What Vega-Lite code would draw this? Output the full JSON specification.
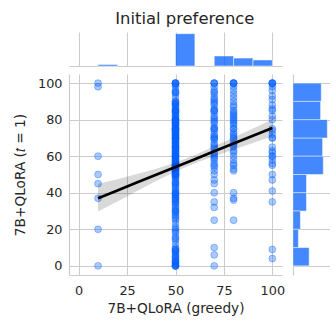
{
  "$schema": "https://vega.github.io/schema/vega-lite/v6.json",
  "padding": {"left": 13, "top": 10, "right": 0, "bottom": 0},
  "title": {"text": "Initial preference", "font": "DejaVu Sans", "fontSize": 16.4, "fontWeight": "normal", "color": "#262626", "anchor": "middle", "offset": 5, "dx": 13},
  "datasets": {
    "pts": [
      {"x":10,"y":100},{"x":10,"y":98},{"x":10,"y":60},{"x":10,"y":50},{"x":10,"y":45},{"x":10,"y":37},{"x":10,"y":20},{"x":10,"y":0},
      {"x":50,"y":0},{"x":50,"y":0},{"x":50,"y":0},{"x":50,"y":0},{"x":50,"y":1},{"x":50,"y":1},{"x":50,"y":2},{"x":50,"y":2},{"x":50,"y":3},{"x":50,"y":3},{"x":50,"y":4},{"x":50,"y":5},{"x":50,"y":5},{"x":50,"y":6},{"x":50,"y":7},{"x":50,"y":8},{"x":50,"y":8},{"x":50,"y":9},{"x":50,"y":9},
      {"x":50,"y":10},{"x":50,"y":12},{"x":50,"y":14},{"x":50,"y":15},{"x":50,"y":16},{"x":50,"y":18},{"x":50,"y":19},
      {"x":50,"y":20},{"x":50,"y":21},{"x":50,"y":23},{"x":50,"y":25},{"x":50,"y":26},{"x":50,"y":27},{"x":50,"y":28},{"x":50,"y":29},
      {"x":50,"y":30},{"x":50,"y":31},{"x":50,"y":32},{"x":50,"y":33},{"x":50,"y":34},{"x":50,"y":35},{"x":50,"y":35},{"x":50,"y":36},{"x":50,"y":37},{"x":50,"y":37},{"x":50,"y":38},{"x":50,"y":39},{"x":50,"y":39},{"x":50,"y":30},
      {"x":50,"y":40},{"x":50,"y":40},{"x":50,"y":41},{"x":50,"y":42},{"x":50,"y":43},{"x":50,"y":44},{"x":50,"y":45},{"x":50,"y":45},{"x":50,"y":46},{"x":50,"y":47},{"x":50,"y":48},{"x":50,"y":49},{"x":50,"y":49},
      {"x":50,"y":50},{"x":50,"y":50},{"x":50,"y":50},{"x":50,"y":51},{"x":50,"y":51},{"x":50,"y":52},{"x":50,"y":52},{"x":50,"y":53},{"x":50,"y":53},{"x":50,"y":54},{"x":50,"y":54},{"x":50,"y":55},{"x":50,"y":55},{"x":50,"y":55},{"x":50,"y":56},{"x":50,"y":56},{"x":50,"y":57},{"x":50,"y":57},{"x":50,"y":58},{"x":50,"y":58},{"x":50,"y":59},{"x":50,"y":59},{"x":50,"y":50},{"x":50,"y":52},{"x":50,"y":54},{"x":50,"y":56},{"x":50,"y":58},{"x":50,"y":55},
      {"x":50,"y":60},{"x":50,"y":60},{"x":50,"y":60},{"x":50,"y":61},{"x":50,"y":62},{"x":50,"y":62},{"x":50,"y":63},{"x":50,"y":64},{"x":50,"y":64},{"x":50,"y":65},{"x":50,"y":65},{"x":50,"y":66},{"x":50,"y":66},{"x":50,"y":67},{"x":50,"y":67},{"x":50,"y":68},{"x":50,"y":68},{"x":50,"y":69},{"x":50,"y":69},{"x":50,"y":60},{"x":50,"y":65},{"x":50,"y":63},{"x":50,"y":61},
      {"x":50,"y":70},{"x":50,"y":70},{"x":50,"y":70},{"x":50,"y":71},{"x":50,"y":71},{"x":50,"y":72},{"x":50,"y":72},{"x":50,"y":73},{"x":50,"y":73},{"x":50,"y":74},{"x":50,"y":74},{"x":50,"y":75},{"x":50,"y":75},{"x":50,"y":75},{"x":50,"y":76},{"x":50,"y":76},{"x":50,"y":77},{"x":50,"y":77},{"x":50,"y":78},{"x":50,"y":78},{"x":50,"y":79},{"x":50,"y":79},{"x":50,"y":70},{"x":50,"y":75},{"x":50,"y":72},{"x":50,"y":78},{"x":50,"y":74},
      {"x":50,"y":80},{"x":50,"y":80},{"x":50,"y":80},{"x":50,"y":81},{"x":50,"y":82},{"x":50,"y":82},{"x":50,"y":83},{"x":50,"y":84},{"x":50,"y":85},{"x":50,"y":85},{"x":50,"y":85},{"x":50,"y":86},{"x":50,"y":87},{"x":50,"y":88},{"x":50,"y":88},{"x":50,"y":89},{"x":50,"y":89},{"x":50,"y":80},{"x":50,"y":84},
      {"x":50,"y":90},{"x":50,"y":90},{"x":50,"y":92},{"x":50,"y":94},{"x":50,"y":95},{"x":50,"y":95},{"x":50,"y":96},{"x":50,"y":98},{"x":50,"y":99},{"x":50,"y":100},{"x":50,"y":100},{"x":50,"y":100},{"x":50,"y":100},
      {"x":70,"y":100},{"x":70,"y":100},{"x":70,"y":100},{"x":70,"y":98},{"x":70,"y":96},{"x":70,"y":95},{"x":70,"y":94},{"x":70,"y":92},{"x":70,"y":91},{"x":70,"y":90},
      {"x":70,"y":89},{"x":70,"y":88},{"x":70,"y":86},{"x":70,"y":85},{"x":70,"y":85},{"x":70,"y":84},{"x":70,"y":82},{"x":70,"y":81},{"x":70,"y":80},
      {"x":70,"y":79},{"x":70,"y":78},{"x":70,"y":76},{"x":70,"y":75},{"x":70,"y":75},{"x":70,"y":74},{"x":70,"y":72},{"x":70,"y":71},{"x":70,"y":70},{"x":70,"y":70},
      {"x":70,"y":69},{"x":70,"y":67},{"x":70,"y":66},{"x":70,"y":65},{"x":70,"y":64},{"x":70,"y":62},{"x":70,"y":61},{"x":70,"y":60},
      {"x":70,"y":59},{"x":70,"y":58},{"x":70,"y":56},{"x":70,"y":55},{"x":70,"y":54},{"x":70,"y":52},{"x":70,"y":50},
      {"x":70,"y":47},{"x":70,"y":45},{"x":70,"y":40},{"x":70,"y":35},{"x":70,"y":32},{"x":70,"y":25},{"x":70,"y":10},{"x":70,"y":6},{"x":70,"y":0},
      {"x":80,"y":100},{"x":80,"y":100},{"x":80,"y":100},{"x":80,"y":100},{"x":80,"y":98},{"x":80,"y":96},{"x":80,"y":94},{"x":80,"y":92},{"x":80,"y":90},
      {"x":80,"y":88},{"x":80,"y":87},{"x":80,"y":85},{"x":80,"y":84},{"x":80,"y":83},{"x":80,"y":82},{"x":80,"y":81},{"x":80,"y":80},
      {"x":80,"y":79},{"x":80,"y":78},{"x":80,"y":77},{"x":80,"y":75},{"x":80,"y":75},{"x":80,"y":73},{"x":80,"y":72},{"x":80,"y":71},{"x":80,"y":70},
      {"x":80,"y":69},{"x":80,"y":67},{"x":80,"y":66},{"x":80,"y":65},{"x":80,"y":63},{"x":80,"y":62},{"x":80,"y":60},
      {"x":80,"y":58},{"x":80,"y":56},{"x":80,"y":55},{"x":80,"y":53},{"x":80,"y":52},
      {"x":80,"y":40},{"x":80,"y":37},{"x":80,"y":36},{"x":80,"y":25},
      {"x":100,"y":100},{"x":100,"y":100},{"x":100,"y":100},{"x":100,"y":100},{"x":100,"y":98},{"x":100,"y":96},{"x":100,"y":93},{"x":100,"y":91},
      {"x":100,"y":88},{"x":100,"y":86},{"x":100,"y":85},{"x":100,"y":82},{"x":100,"y":80},
      {"x":100,"y":75},{"x":100,"y":74},{"x":100,"y":72},{"x":100,"y":70},{"x":100,"y":70},
      {"x":100,"y":65},{"x":100,"y":63},{"x":100,"y":62},{"x":100,"y":60},{"x":100,"y":60},
      {"x":100,"y":58},{"x":100,"y":56},{"x":100,"y":55},{"x":100,"y":50},
      {"x":100,"y":47},{"x":100,"y":41},{"x":100,"y":35},{"x":100,"y":9},{"x":100,"y":4}
    ],
    "fit": [
      {"x":10,"fit":37.0,"lo":29.8,"hi":45.0},
      {"x":20,"fit":41.3,"lo":35.2,"hi":47.4},
      {"x":30,"fit":45.6,"lo":40.9,"hi":50.3},
      {"x":40,"fit":49.8,"lo":46.4,"hi":53.2},
      {"x":50,"fit":54.1,"lo":51.6,"hi":56.6},
      {"x":60,"fit":58.4,"lo":56.1,"hi":60.7},
      {"x":70,"fit":62.7,"lo":60.0,"hi":65.4},
      {"x":80,"fit":66.9,"lo":63.6,"hi":70.2},
      {"x":90,"fit":71.2,"lo":67.2,"hi":75.2},
      {"x":100,"fit":75.5,"lo":70.9,"hi":80.1}
    ]
  },
  "concat": [
    {
      "width": 213, "height": 34,
      "data": {"name": "pts"},
      "transform": [
        {"bin": {"extent": [10, 100], "step": 10}, "field": "x", "as": ["x0", "x1"]},
        {"aggregate": [{"op": "count", "as": "n"}], "groupby": ["x0", "x1"]}
      ],
      "mark": {"type": "bar", "color": "#0560ff", "fillOpacity": 0.75, "stroke": "#ffffff", "strokeWidth": 0.8, "strokeOpacity": 0.6},
      "encoding": {
        "x": {"field": "x0", "type": "quantitative", "scale": {"domain": [-5, 105], "nice": false, "zero": false},
              "axis": {"values": [0, 25, 50, 75, 100], "labels": false, "title": null, "grid": true, "domain": true}},
        "x2": {"field": "x1"},
        "y": {"field": "n", "type": "quantitative", "scale": {"domain": [0, 180], "nice": false}, "axis": null},
        "y2": {"datum": 0}
      }
    },
    {
      "width": 37, "height": 34,
      "data": {"values": []},
      "mark": "point"
    },
    {
      "width": 213, "height": 201,
      "layer": [
        {
          "data": {"name": "pts"},
          "mark": {"type": "circle", "size": 48, "color": "#0560ff", "fillOpacity": 0.34, "stroke": "#0560ff", "strokeWidth": 1, "strokeOpacity": 0.34},
          "encoding": {
            "x": {"field": "x", "type": "quantitative", "scale": {"domain": [-5, 105], "nice": false, "zero": false},
                  "axis": {"values": [0, 25, 50, 75, 100], "title": "7B+QLoRA (greedy)", "labelPadding": 9, "titlePadding": 5, "grid": true}},
            "y": {"field": "y", "type": "quantitative", "scale": {"domain": [-5, 105], "nice": false, "zero": false},
                  "axis": {"values": [0, 20, 40, 60, 80, 100], "title": "7B+QLoRA (𝑡 = 1)", "labelPadding": 7, "titlePadding": 10, "grid": true}}
          }
        },
        {
          "data": {"name": "fit"},
          "mark": {"type": "area", "color": "#000000", "opacity": 0.15},
          "encoding": {
            "x": {"field": "x", "type": "quantitative"},
            "y": {"field": "lo", "type": "quantitative"},
            "y2": {"field": "hi"}
          }
        },
        {
          "data": {"name": "fit"},
          "mark": {"type": "line", "color": "#000000", "strokeWidth": 2.7},
          "encoding": {
            "x": {"field": "x", "type": "quantitative"},
            "y": {"field": "fit", "type": "quantitative"}
          }
        }
      ]
    },
    {
      "width": 37, "height": 201,
      "data": {"name": "pts"},
      "transform": [
        {"bin": {"extent": [0, 100], "step": 10}, "field": "y", "as": ["y0", "y1"]},
        {"aggregate": [{"op": "count", "as": "n"}], "groupby": ["y0", "y1"]}
      ],
      "mark": {"type": "bar", "color": "#0560ff", "fillOpacity": 0.75, "stroke": "#ffffff", "strokeWidth": 0.8, "strokeOpacity": 0.6},
      "encoding": {
        "y": {"field": "y0", "type": "quantitative", "scale": {"domain": [-5, 105], "nice": false, "zero": false},
              "axis": {"values": [0, 20, 40, 60, 80, 100], "labels": false, "title": null, "grid": true, "domain": true}},
        "y2": {"field": "y1"},
        "x": {"field": "n", "type": "quantitative", "scale": {"domain": [0, 55], "nice": false}, "axis": null},
        "x2": {"datum": 0}
      }
    }
  ],
  "columns": 2,
  "spacing": 7,
  "config": {
    "view": {"stroke": null},
    "axis": {
      "gridColor": "#cccccc", "gridWidth": 1, "domainColor": "#cccccc", "domainWidth": 1.2,
      "ticks": false, "labelFont": "DejaVu Sans", "titleFont": "DejaVu Sans",
      "labelFontSize": 12.8, "titleFontSize": 13.7, "labelColor": "#262626", "titleColor": "#262626",
      "titleFontWeight": "normal"
    }
  }
}
